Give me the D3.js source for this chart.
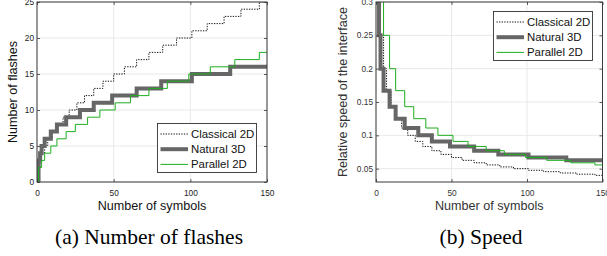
<!DOCTYPE html>
<html>
<head>
<meta charset="utf-8">
<script src="https://cdn.jsdelivr.net/npm/d3@7"></script>
<style>
  body { margin: 0; background: #fff; }
</style>
</head>
<body>
<div id="canvas"></div>
<script>
// symbol counts at which each stair step starts, and the value held from there
let classicalN = [0, 1, 2, 3, 5, 7, 10, 13, 17, 21, 26, 31, 37, 43, 50, 57, 65, 73, 82, 91, 101, 111, 122, 133, 145, 150];
let classicalFlashes = [0, 2, 3, 4, 5, 6, 7, 8, 9, 10, 11, 12, 13, 14, 15, 16, 17, 18, 19, 20, 21, 22, 23, 24, 25, 25];

let naturalN = [0, 1, 2, 3, 5, 9, 13, 19, 28, 37, 49, 65, 81, 101, 126, 150];
let naturalFlashes = [0, 3, 4, 5, 6, 7, 8, 9, 10, 11, 12, 13, 14, 15, 16, 16];

let parallelN = [0, 1, 3, 5, 9, 13, 19, 25, 33, 41, 51, 61, 73, 85, 99, 113, 129, 145, 150];
let parallelFlashes = [0, 2, 3, 4, 5, 6, 7, 8, 9, 10, 11, 12, 13, 14, 15, 16, 17, 18, 18];

let classicalSpeedN = [1, 2, 3, 5, 7, 10, 13, 17, 21, 26, 31, 37, 43, 50, 57, 65, 73, 82, 91, 101, 111, 122, 133, 145, 150];
let classicalSpeed = [0.5, 0.333, 0.25, 0.2, 0.167, 0.143, 0.125, 0.111, 0.1, 0.0909, 0.0833, 0.0769, 0.0714, 0.0667, 0.0625, 0.0588, 0.0556, 0.0526, 0.05, 0.0476, 0.0455, 0.0435, 0.0417, 0.04, 0.04];

let naturalSpeedN = [1, 2, 3, 5, 9, 13, 19, 28, 37, 49, 65, 81, 101, 126, 150];
let naturalSpeed = [0.333, 0.25, 0.2, 0.167, 0.143, 0.125, 0.111, 0.1, 0.0909, 0.0833, 0.0769, 0.0714, 0.0667, 0.0625, 0.0625];

let parallelSpeedN = [1, 3, 5, 9, 13, 19, 25, 33, 41, 51, 61, 73, 85, 99, 113, 129, 145, 150];
let parallelSpeed = [0.5, 0.333, 0.25, 0.2, 0.167, 0.143, 0.125, 0.111, 0.1, 0.0909, 0.0833, 0.0769, 0.0714, 0.0667, 0.0625, 0.0588, 0.0556, 0.0556];

let seriesNames = ["Classical 2D", "Natural 3D", "Parallel 2D"];
let xTicks = [0, 50, 100, 150];
let flashTicks = [0, 5, 10, 15, 20, 25];
let speedTicks = [0.05, 0.1, 0.15, 0.2, 0.25, 0.3];
let speedTickLabels = ["0.05", "0.1", "0.15", "0.2", "0.25", "0.3"];

let sans = "'Liberation Sans', Arial, sans-serif";
let serif = "'Liberation Serif', 'Times New Roman', serif";

let styles = [
  {color: "#111", width: 1, dash: "1.3,1.3"},
  {color: "#666", width: 4, dash: null},
  {color: "#1fae1f", width: 1, dash: null}
];

let svg = d3.select("#canvas").append("svg")
  .attr("width", 607)
  .attr("height", 256);

function drawPanel(cfg) {
  let x = d3.scaleLinear().domain([0, 150]).range([cfg.left, cfg.right]);
  let y = d3.scaleLinear().domain(cfg.yDomain).range([182, 2]);
  let g = svg.append("g");

  g.append("clipPath").attr("id", cfg.id)
    .append("rect")
    .attr("x", cfg.left).attr("y", 2)
    .attr("width", cfg.right - cfg.left).attr("height", 180);

  // grid
  g.selectAll("line.gx").data(xTicks).enter().append("line")
    .attr("x1", d => x(d)).attr("x2", d => x(d))
    .attr("y1", 2).attr("y2", 182)
    .attr("stroke", "#e3e3e3").attr("stroke-width", 0.8);
  g.selectAll("line.gy").data(cfg.yTicks).enter().append("line")
    .attr("x1", cfg.left).attr("x2", cfg.right)
    .attr("y1", d => y(d)).attr("y2", d => y(d))
    .attr("stroke", "#e3e3e3").attr("stroke-width", 0.8);

  // stairs
  let line = d3.line()
    .x(d => x(d[0]))
    .y(d => y(d[1]))
    .curve(d3.curveStepAfter);

  cfg.series.forEach(function(s, i) {
    let pts = s.n.map((n, j) => [n, s.v[j]]);
    g.append("path")
      .attr("d", line(pts))
      .attr("fill", "none")
      .attr("clip-path", "url(#" + cfg.id + ")")
      .attr("stroke", styles[i].color)
      .attr("stroke-width", styles[i].width)
      .attr("stroke-dasharray", styles[i].dash);
  });

  // axes with inward ticks on all four sides
  g.append("g").attr("transform", "translate(0,182)")
    .call(d3.axisBottom(x).tickValues(xTicks).tickSize(-3).tickPadding(8));
  g.append("g").attr("transform", "translate(" + cfg.left + ",0)")
    .call(d3.axisLeft(y).tickValues(cfg.yTicks).tickSize(-3).tickPadding(3)
      .tickFormat((d, i) => cfg.yLabels[i]));
  g.append("g").attr("transform", "translate(0,2)")
    .call(d3.axisTop(x).tickValues(xTicks).tickSize(-3).tickFormat(""));
  g.append("g").attr("transform", "translate(" + cfg.right + ",0)")
    .call(d3.axisRight(y).tickValues(cfg.yTicks).tickSize(-3).tickFormat(""));
  g.selectAll(".domain").remove();
  g.selectAll(".tick line").attr("stroke", "#333").attr("stroke-width", 0.8);
  g.selectAll(".tick text")
    .attr("font-size", cfg.tickFont).attr("fill", cfg.textColor);
  g.selectAll("g").attr("font-family", sans);

  g.append("rect")
    .attr("x", cfg.left).attr("y", 2)
    .attr("width", cfg.right - cfg.left).attr("height", 180)
    .attr("fill", "none").attr("stroke", "#3a3a3a").attr("stroke-width", 1);

  // axis titles
  g.append("text")
    .attr("x", (cfg.left + cfg.right) / 2).attr("y", 210)
    .attr("text-anchor", "middle").attr("font-size", 12.6)
    .attr("font-family", sans)
    .attr("fill", cfg.labelColor)
    .text("Number of symbols");
  g.append("text")
    .attr("transform", "translate(" + cfg.yTitleX + ",92) rotate(-90)")
    .attr("text-anchor", "middle").attr("font-size", 12.6)
    .attr("font-family", sans)
    .attr("fill", cfg.labelColor)
    .text(cfg.yTitle);

  // legend
  let lg = g.append("g").attr("transform", "translate(" + cfg.legend[0] + "," + cfg.legend[1] + ")");
  lg.append("rect")
    .attr("width", 99).attr("height", 49)
    .attr("fill", "#fff").attr("stroke", "#333").attr("stroke-width", 0.9);
  seriesNames.forEach(function(name, i) {
    let yy = 10.5 + i * 15.2;
    lg.append("line")
      .attr("x1", 3).attr("x2", 30.5)
      .attr("y1", yy).attr("y2", yy)
      .attr("stroke", styles[i].color)
      .attr("stroke-width", styles[i].width)
      .attr("stroke-dasharray", styles[i].dash);
    lg.append("text")
      .attr("x", 33.5).attr("y", yy + 4)
      .attr("font-family", sans)
      .attr("font-size", 11.4).attr("fill", "#111")
      .text(name);
  });

  // caption
  svg.append("text")
    .attr("x", cfg.captionX).attr("y", 244)
    .attr("text-anchor", "middle")
    .attr("font-family", serif)
    .attr("font-size", 21.5).attr("fill", "#000")
    .text(cfg.caption);
}

drawPanel({
  id: "clipA", left: 37, right: 267,
  yDomain: [0, 25], yTicks: flashTicks, yLabels: flashTicks.map(String),
  series: [
    {n: classicalN, v: classicalFlashes},
    {n: naturalN, v: naturalFlashes},
    {n: parallelN, v: parallelFlashes}
  ],
  tickFont: 8.3, textColor: "#222", labelColor: "#111",
  yTitle: "Number of flashes", yTitleX: 17,
  legend: [157.5, 123.5],
  caption: "(a) Number of flashes", captionX: 149
});

drawPanel({
  id: "clipB", left: 376, right: 602.5,
  yDomain: [0.03, 0.3], yTicks: speedTicks, yLabels: speedTickLabels,
  series: [
    {n: classicalSpeedN, v: classicalSpeed},
    {n: naturalSpeedN, v: naturalSpeed},
    {n: parallelSpeedN, v: parallelSpeed}
  ],
  tickFont: 8.3, textColor: "#333", labelColor: "#333",
  yTitle: "Relative speed of the interface", yTitleX: 347,
  legend: [493.5, 11.5],
  caption: "(b) Speed", captionX: 481
});
</script>
</body>
</html>
